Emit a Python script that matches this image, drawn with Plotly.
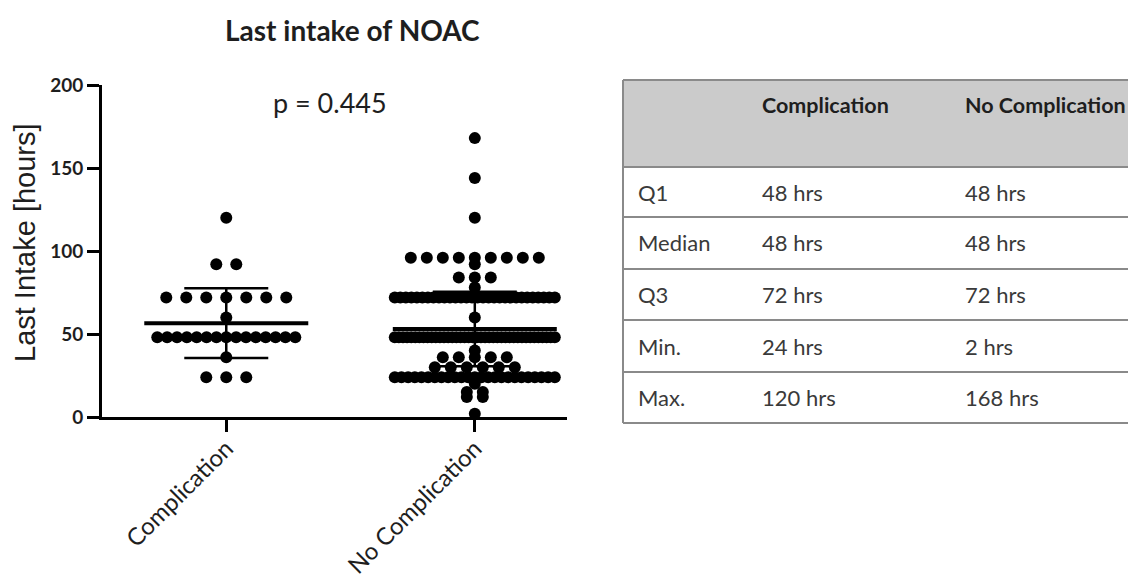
import plotly.graph_objects as go

# page offset of the plot div inside the browser (body margin)
OFF_X, OFF_Y = 8, 8
W, H = 1136 - 2 * OFF_X, 578 - OFF_Y

# ---------------- data ----------------
categories = ["Complication", "No Complication"]

comp_levels = [120, 92, 72, 60, 48, 36, 24]
comp_counts = [1, 2, 7, 1, 15, 1, 3]

nocomp_levels = [168, 144, 120, 96, 92, 84, 78, 72, 60, 48, 40, 36, 30, 24, 20, 15, 12, 2]
nocomp_counts = [1, 1, 1, 9, 1, 3, 1, 30, 1, 40, 1, 5, 6, 25, 1, 2, 2, 1]

group_means = [56.5, 53.0]
group_sds = [21.0, 22.5]

p_value_text = "p = 0.445"

y_ticks = [0, 50, 100, 150, 200]

table_columns = ["", "Complication", "No Complication"]
table_rows = ["Q1", "Median", "Q3", "Min.", "Max."]
comp_stats = [48, 48, 72, 24, 120]
nocomp_stats = [48, 48, 72, 2, 168]

# ---------------- layout geometry (screen pixels) ----------------
AX_LEFT, AX_RIGHT = 102, 567
AX_TOP, AX_BOTTOM = 85, 417
X_RANGE = [-0.5, 1.371]
PX_PER_UNIT = (AX_RIGHT - AX_LEFT) / (X_RANGE[1] - X_RANGE[0])


def px(x):
    return (x - OFF_X) / W


def py(y):
    return 1 - (y - OFF_Y) / H


def swarm(levels, counts, center, max_step_px, max_width_px):
    xs, ys = [], []
    for v, n in zip(levels, counts):
        step = max_step_px if n <= 1 else min(max_step_px, max_width_px / (n - 1))
        for i in range(n):
            off = (i - (n - 1) / 2) * step
            xs.append(center + off / PX_PER_UNIT)
            ys.append(v)
    return xs, ys


fig = go.Figure()

cx, cy = swarm(comp_levels, comp_counts, 0, 20, 138)
nx, ny = swarm(nocomp_levels, nocomp_counts, 1, 16, 160)

fig.add_trace(go.Scatter(x=cx + nx, y=cy + ny, mode="markers",
                         marker=dict(size=12, color="black", line=dict(width=0)),
                         cliponaxis=False, showlegend=False, hoverinfo="y"))

# mean lines
mean_half = 82 / PX_PER_UNIT
mx, my = [], []
for i, m in enumerate(group_means):
    mx += [i - mean_half, i + mean_half, None]
    my += [m, m, None]
fig.add_trace(go.Scatter(x=mx, y=my, mode="lines", line=dict(color="black", width=4),
                         showlegend=False, hoverinfo="skip", cliponaxis=False))

# SD error bars
cap_half = 42 / PX_PER_UNIT
ex, ey = [], []
for i, (m, s) in enumerate(zip(group_means, group_sds)):
    ex += [i, i, None, i - cap_half, i + cap_half, None, i - cap_half, i + cap_half, None]
    ey += [m - s, m + s, None, m + s, m + s, None, m - s, m - s, None]
fig.add_trace(go.Scatter(x=ex, y=ey, mode="lines", line=dict(color="black", width=2.5),
                         showlegend=False, hoverinfo="skip", cliponaxis=False))

fig.update_layout(
    width=W, height=H, autosize=False,
    margin=dict(l=0, r=0, t=0, b=0, pad=0),
    paper_bgcolor="white", plot_bgcolor="white",
    xaxis=dict(domain=[px(AX_LEFT), px(AX_RIGHT)], range=X_RANGE, automargin=False,
               tickmode="array", tickvals=[0, 1], ticktext=categories,
               tickangle=-45, ticks="outside", ticklen=12, tickwidth=2.5,
               ticklabelstandoff=-7,
               tickcolor="black", showline=True, linewidth=3, linecolor="black",
               showgrid=False, zeroline=False,
               tickfont=dict(family="Lato", size=24, color="#1e1e1e")),
    yaxis=dict(domain=[py(AX_BOTTOM), py(AX_TOP)], range=[0, 200], automargin=False,
               tickmode="array", tickvals=y_ticks,
               ticks="outside", ticklen=12, tickwidth=2.5, tickcolor="black",
               showline=True, linewidth=3, linecolor="black",
               showgrid=False, zeroline=False,
               tickfont=dict(family="Lato", size=19, color="#1e1e1e", weight="bold")),
)

annotations = [
    dict(text="<b>Last intake of NOAC</b>", x=px(352), y=py(30), xref="paper", yref="paper",
         showarrow=False, xanchor="center", yanchor="middle",
         font=dict(family="Lato", size=28, color="#1e1e1e")),
    dict(text=p_value_text, x=px(330), y=py(102), xref="paper", yref="paper",
         showarrow=False, xanchor="center", yanchor="middle",
         font=dict(family="Lato", size=27, color="#1e1e1e")),
    dict(text="Last Intake [hours]", x=px(25), y=py(243), xref="paper", yref="paper",
         showarrow=False, xanchor="center", yanchor="middle", textangle=-90,
         font=dict(family="Liberation Sans", size=29, color="#1e1e1e")),
]

# ---------------- table ----------------
T_LEFT, T_RIGHT = 623, 1136
row_edges = [80, 167, 217, 269, 320, 372, 423]
col_x = [636, 760, 963]
line_col = "#8a8a8a"

shapes = [
    dict(type="rect", xref="paper", yref="paper", x0=px(T_LEFT), x1=px(T_RIGHT),
         y0=py(row_edges[0]), y1=py(row_edges[1]), fillcolor="#cbcbcb", line=dict(width=0),
         layer="below"),
    dict(type="line", xref="paper", yref="paper", x0=px(T_LEFT), x1=px(T_LEFT),
         y0=py(row_edges[0]), y1=py(row_edges[-1]), line=dict(color=line_col, width=2)),
]
for ye in row_edges:
    shapes.append(dict(type="line", xref="paper", yref="paper", x0=px(T_LEFT), x1=px(T_RIGHT),
                       y0=py(ye), y1=py(ye), line=dict(color=line_col, width=2)))

for j, head in enumerate(table_columns):
    if head:
        annotations.append(dict(text="<b>" + head + "</b>", x=px(col_x[j]), y=py(105),
                                xref="paper", yref="paper", showarrow=False,
                                xanchor="left", yanchor="middle",
                                font=dict(family="Lato", size=21.5, color="#1e1e1e")))

for i, lab in enumerate(table_rows):
    yc = (row_edges[i + 1] + row_edges[i + 2]) / 2
    for j, txt in enumerate([lab, f"{comp_stats[i]} hrs", f"{nocomp_stats[i]} hrs"]):
        annotations.append(dict(text=txt, x=px(col_x[j]), y=py(yc), xref="paper", yref="paper",
                                showarrow=False, xanchor="left", yanchor="middle",
                                font=dict(family="Lato", size=22, color="#3a3a3a")))

fig.update_layout(annotations=annotations, shapes=shapes)

fig.write_html("out.html")
